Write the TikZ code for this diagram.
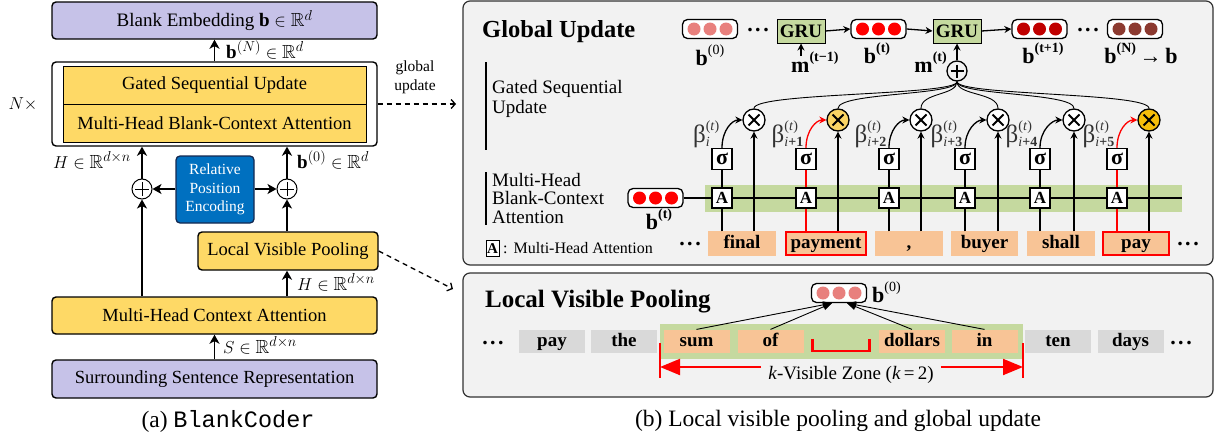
\documentclass[tikz,border=0pt]{standalone}
\usepackage{fontspec}
\setmainfont{Liberation Serif}
\setmonofont{Liberation Mono}
\usepackage{amssymb}
\usetikzlibrary{arrows.meta,calc}
\definecolor{lav}{RGB}{198,194,232}
\definecolor{yel}{RGB}{254,217,102}
\definecolor{rpeblue}{RGB}{0,112,192}
\definecolor{navy}{RGB}{20,40,80}
\definecolor{panelbg}{RGB}{242,242,242}
\definecolor{panelbd}{RGB}{50,50,50}
\definecolor{gband}{RGB}{197,217,159}
\definecolor{peach}{RGB}{248,196,150}
\definecolor{tgray}{RGB}{217,217,217}
\definecolor{pinkc}{RGB}{232,128,125}
\definecolor{redc}{RGB}{255,0,0}
\definecolor{dredc}{RGB}{192,0,0}
\definecolor{brownc}{RGB}{140,58,48}
\definecolor{gyel}{RGB}{250,212,100}
\definecolor{gorange}{RGB}{246,190,10}
\definecolor{grugreen}{RGB}{197,217,159}
\newcommand\fs[1]{\fontsize{#1}{#1}\selectfont}
\newcommand\bsup[2]{#1\raisebox{0.5em}{\fs{14}#2}}
\newcommand\pill[3]{%
  \node[pillbox] (#1) at (#2) {};
  \foreach \dx in {-16,0,16}{\fill[#3] ($(#1.center)+(\dx,0)$) circle[radius=6.5pt];}%
}
\begin{document}
\begin{tikzpicture}[x=1pt,y=-1pt,
  lbox/.style={draw, line width=1.4pt, rounded corners=4pt, inner sep=0pt, font=\fs{18.5}},
  ibox/.style={draw, line width=0.8pt, fill=yel, inner sep=0pt, font=\fs{18.5}, minimum width=303pt, minimum height=38pt},
  arr/.style={line width=1.8pt, -{Stealth[length=9pt,width=10pt,inset=2.5pt]}},
  darr/.style={line width=1.3pt, dash pattern=on 5pt off 4pt, -{Straight Barb[length=4pt,width=9pt]}},
  lab/.style={font=\fs{19}, inner sep=0pt},
  panel/.style={draw=panelbd, fill=panelbg, line width=1.2pt, rounded corners=7pt, inner sep=0pt},
  pillbox/.style={draw, line width=1.3pt, fill=white, rounded corners=5pt, minimum width=55pt, minimum height=19pt, inner sep=0pt},
  tok/.style={inner sep=0pt, minimum height=23pt, text height=12.5pt, text depth=3.5pt, font=\fs{19}\bfseries, line width=1.2pt},
  abox/.style={draw, fill=white, line width=1.1pt, minimum width=20pt, minimum height=20pt, inner sep=0pt, font=\fs{17}\bfseries},
  sbox/.style={draw, fill=white, line width=1.1pt, minimum width=20pt, minimum height=21pt, inner sep=0pt, font=\fs{22}\bfseries},
  gate/.style={circle, draw, line width=1.3pt, minimum size=22pt, inner sep=0pt},
  gru/.style={draw, fill=grugreen, line width=1pt, minimum width=48pt, minimum height=24pt, inner sep=0pt, font=\fs{19}\bfseries},
  vline/.style={line width=1.3pt},
  tip/.style={-{Stealth[length=7pt,width=7pt]}},
  bl/.style={inner sep=0pt, font=\fs{22}\bfseries},
  dots/.style={inner sep=0pt, font=\fs{22}\bfseries},
]
\useasboundingbox (0,0) rectangle (1216,439);

% ---------------- left panel ----------------
\node[lbox, fill=lav, minimum width=325pt, minimum height=37pt] (be) at (214.5,20.5) {\fs{19}Blank Embedding $\mathbf{b}\in\mathbb{R}^d$};
\node[lbox, fill=white, minimum width=325pt, minimum height=84pt] (nx) at (214.5,104) {};
\node[ibox] (gsu) at (214.5,85) {Gated Sequential Update};
\node[ibox] (mhb) at (214.5,123) {Multi-Head Blank-Context Attention};
\node[lab] (nlab) at (23,104) {$N\times$};
\draw[arr] (nx.north) -- (be.south);
\node[lab, anchor=base west] (lbN) at (226,58) {$\mathbf{b}^{(N)}\in\mathbb{R}^d$};
\node[font=\fontsize{15.5}{19}\selectfont, align=center, inner sep=0pt] (glab) at (415,77) {global\\update};
\coordinate (gend) at (456,104);
\draw[darr] (nx.east) -- (gend);

\node[circle, draw, line width=1pt, minimum size=20pt, inner sep=0pt] (p1) at (142,189) {};
\draw[line width=0.9pt] ($(p1.center)+(-7,0)$) -- ($(p1.center)+(7,0)$) ($(p1.center)+(0,-7)$) -- ($(p1.center)+(0,7)$);
\node[circle, draw, line width=1pt, minimum size=20pt, inner sep=0pt] (p2) at (287,189) {};
\draw[line width=0.9pt] ($(p2.center)+(-7,0)$) -- ($(p2.center)+(7,0)$) ($(p2.center)+(0,-7)$) -- ($(p2.center)+(0,7)$);

\node[fill=rpeblue, draw=navy, line width=1.3pt, rounded corners=4pt, minimum width=78pt, minimum height=67pt, inner sep=0pt, text=white, align=center, font=\fontsize{15.5}{18.5}\selectfont] (rpe) at (215,189.5) {Relative\\Position\\Encoding};
\draw[arr] (rpe.west |- p1.east) -- (p1.east);
\draw[arr] (rpe.east |- p2.west) -- (p2.west);

\node[lbox, fill=yel, minimum width=180pt, minimum height=38pt] (lvp) at (288,251) {Local Visible Pooling};
\node[lbox, fill=yel, minimum width=325pt, minimum height=37pt] (mhca) at (214.5,315.5) {Multi-Head Context Attention};
\node[lbox, fill=lav, minimum width=325pt, minimum height=38pt] (ssr) at (214.5,379) {Surrounding Sentence Representation};

\draw[arr] (ssr.north) -- (mhca.south);
\draw[arr] (p2.south |- mhca.north) -- (p2.south |- lvp.south);
\draw[arr] (p2.south |- lvp.north) -- (p2.south);
\draw[arr] (p2.north) -- (p2.north |- nx.south);
\draw[arr] (p1.south |- mhca.north) -- (p1.south);
\draw[arr] (p1.north) -- (p1.north |- nx.south);

\node[lab, anchor=base east] (lH1) at (131,168) {$H\in\mathbb{R}^{d\times n}$};
\node[lab, anchor=base west] (lb0) at (297,168) {$\mathbf{b}^{(0)}\in\mathbb{R}^d$};
\node[lab, anchor=base west] (lH2) at (297,290) {$H\in\mathbb{R}^{d\times n}$};
\node[lab, anchor=base west] (lS) at (223,353) {$S\in\mathbb{R}^{d\times n}$};

\coordinate (lend) at (453,289);
\draw[darr] (lvp.east) -- (lend);

\node[inner sep=0pt, font=\fs{23.5}, anchor=base] (capa) at (228,427) {(a) \texttt{BlankCoder}};
\node[inner sep=0pt, font=\fs{23.5}, anchor=base] (capb) at (838,426) {(b) Local visible pooling and global update};

% ---------------- global update panel ----------------
\node[panel, minimum width=750pt, minimum height=264pt] (gpan) at (838,133) {};
\node[anchor=base west, inner sep=0pt, font=\fs{24.5}\bfseries] (gtitle) at (482,37) {Global Update};
\draw[line width=1.6pt] (486,62) -- (486,150);
\draw[line width=1.6pt] (486,172) -- (486,225);
\node[anchor=north west, inner sep=0pt, align=left, font=\fontsize{19}{20}\selectfont] (gsutxt) at (492,80) {Gated Sequential\\Update};
\node[anchor=north west, inner sep=0pt, align=left, font=\fontsize{19}{18.5}\selectfont] (mhtxt) at (492,173) {Multi-Head\\Blank-Context\\Attention};
\node[draw, fill=white, line width=0.9pt, minimum width=13pt, minimum height=16pt, inner sep=0pt, font=\fs{15}\bfseries] (legA) at (492.5,248.5) {A};
\node[anchor=base west, inner sep=0pt, font=\fs{16}] (legT) at (503,253) {:\hspace{6pt}Multi-Head Attention};

\pill{pb0}{710,29}{pinkc}
\node[bl, anchor=base] (lb0t) at (710,65) {\bsup{b}{\mdseries(0)}};
\node[dots] (d1) at (758,30) {.\hspace{2.5pt}.\hspace{2.5pt}.};
\node[gru] (gru1) at (801,31) {GRU};
\coordinate (m1top) at (801,56);
\draw[vline, tip] (m1top) -- (gru1.south);
\node[bl, anchor=base west] (lm1) at (791,72) {\bsup{m}{(t−1)}};
\pill{pbt}{878.5,29}{redc}
\draw[vline, tip] (gru1.east) -- (pbt.west);
\node[bl, anchor=base] (lbt) at (877,63) {\bsup{b}{(t)}};
\node[gru] (gru2) at (957,31) {GRU};
\draw[vline, tip] (pbt.east) -- (gru2.west);
\pill{pbt1}{1039.5,29}{dredc}
\draw[vline, tip] (gru2.east) -- (pbt1.west);
\node[bl, anchor=base] (lbt1) at (1043,63) {\bsup{b}{(t+1)}};
\node[dots] (d2) at (1088,30) {.\hspace{2.5pt}.\hspace{2.5pt}.};
\pill{pbN}{1135,29}{brownc}
\node[bl, anchor=base] (lbN2) at (1141,63) {\bsup{b}{(N)}\,→\,b};
\node[gate, minimum size=20pt] (pm) at (957,71) {};
\draw[line width=2pt] ($(pm.center)+(-6.5,0)$) -- ($(pm.center)+(6.5,0)$) ($(pm.center)+(0,-6.5)$) -- ($(pm.center)+(0,6.5)$);
\draw[vline, tip] (pm.north) -- (gru2.south);
\node[bl, anchor=base east] (lmt) at (947,72) {\bsup{m}{(t)}};

\node[fill=gband, minimum width=477pt, minimum height=27pt, inner sep=0pt] (band) at (943.5,198.5) {};
\pill{pbt2}{655.5,198}{redc}
\node[bl, anchor=base] (lbt2) at (659,229) {\bsup{b}{(t)}};
\node[dots] (d3) at (690,244) {.\hspace{2.5pt}.\hspace{2.5pt}.};
\node[dots] (d4) at (1188,244) {.\hspace{2.5pt}.\hspace{2.5pt}.};

\foreach \q/\xa/\xm/\tc/\tw/\word/\col/\mf/\tbd/\sub in {
  1/722/754/742/66/final/black/white/peach/{\textit{i}},
  2/806/838/826/80/payment/redc/gyel/redc/{\textit{i}\textbf{+1}},
  3/889/921/909/66/{,}/black/white/peach/{\textit{i}\textbf{+2}},
  4/965/998/984.5/66/buyer/black/white/peach/{\textit{i}\textbf{+3}},
  5/1040/1074/1061/66/shall/black/white/peach/{\textit{i}\textbf{+4}},
  6/1117/1149/1136/66/pay/redc/gorange/redc/{\textit{i}\textbf{+5}}}
{
  \node[tok, fill=peach, draw=\tbd, minimum width=\tw] (T\q) at (\tc,243.5) {\word};
  \node[abox] (A\q) at (\xa,198) {A};
  \node[sbox] (S\q) at (\xa,159) {σ};
  \node[gate, fill=\mf] (M\q) at (\xm,120) {};
  \draw[line width=2pt] ($(M\q.center)+(-5.5,-5.5)$) -- ($(M\q.center)+(5.5,5.5)$) ($(M\q.center)+(-5.5,5.5)$) -- ($(M\q.center)+(5.5,-5.5)$);
  \draw[vline, draw=\col] (A\q.south |- T\q.north) -- (A\q.south);
  \draw[vline, draw=\col] (A\q.north) -- (S\q.south);
  \draw[vline, draw=\col, tip] (S\q.north) .. controls +(0,-18) and +(-10,0) .. (M\q.west);
  \draw[vline, tip] (M\q.south |- T\q.north) -- (M\q.south);
  \draw[line width=0.9pt] (pm.south) .. controls +(0,14) and +(0,-16) .. (M\q.north);
  \node[anchor=base east, inner sep=0pt, text=black!80, font=\fs{25}] (B\q) at (\xa-2,142) {β$^{\mbox{\fs{14}(\textit{t})}}_{\mbox{\fs{14}\sub}}$};
}
\draw[vline] (pbt2.east) -- (A1.west);
\foreach \q in {1,...,5}{\pgfmathtruncatemacro\qn{\q+1}\draw[vline] (A\q.east) -- (A\qn.west);}
\draw[vline] (A6.east) -- (A6.east -| band.east);

% ---------------- local visible pooling panel ----------------
\node[panel, minimum width=750pt, minimum height=124pt] (lpan) at (838,335) {};
\node[anchor=base west, inner sep=0pt, font=\fs{25}\bfseries] (ltitle) at (485,307) {Local Visible Pooling};
\node[fill=gband, minimum width=363pt, minimum height=35pt, inner sep=0pt] (band2) at (841.5,341.5) {};
\foreach \nm/\cx/\cl/\w in {pay/552/tgray/pay, the/624/tgray/the, sum/696.5/peach/sum, of/770.5/peach/of, dol/912/peach/dollars, in/984.5/peach/in, ten/1058/tgray/ten, days/1130.5/tgray/days}
  \node[tok, fill=\cl, minimum width=66pt] (L\nm) at (\cx,341.5) {\w};
\node[dots] (d5) at (493,343) {.\hspace{2.5pt}.\hspace{2.5pt}.};
\node[dots] (d6) at (1181,343) {.\hspace{2.5pt}.\hspace{2.5pt}.};
\node[minimum width=57pt, minimum height=12pt, inner sep=0pt] (blank) at (841,345) {};
\draw[redc, line width=2.5pt] (blank.north west) -- (blank.south west) -- (blank.south east) -- (blank.north east);
\pill{pb0b}{839,293}{pinkc}
\node[bl, anchor=base west] (lb0b) at (872,302) {\bsup{b}{\mdseries(0)}};
\draw[line width=0.9pt, -{Triangle[length=9pt,width=7pt]}] (Lsum.north) -- ($(pb0b.south)+(-7,0)$);
\draw[line width=0.9pt, -{Triangle[length=9pt,width=7pt]}] (Lof.north) -- ($(pb0b.south)+(-7,0)$);
\draw[line width=0.9pt, -{Triangle[length=9pt,width=7pt]}] (Ldol.north) -- ($(pb0b.south)+(8,0)$);
\draw[line width=0.9pt, -{Triangle[length=9pt,width=7pt]}] (Lin.north) -- ($(pb0b.south)+(8,0)$);
\node[inner xsep=7pt, inner ysep=0pt, font=\fs{19}, anchor=base] (kz) at (851,379) {\textit{k}-Visible Zone (\textit{k}\,=\,2)};
\coordinate (tkL) at (660,367);
\coordinate (tkR) at (1023,367);
\draw[redc, line width=2pt] ($(tkL)+(0,-24)$) -- ($(tkL)+(0,11)$);
\draw[redc, line width=2pt] ($(tkR)+(0,-24)$) -- ($(tkR)+(0,11)$);
\draw[redc, line width=2pt, -{Triangle[length=20pt,width=16pt]}] (kz.west |- tkL) -- (tkL);
\draw[redc, line width=2pt, -{Triangle[length=20pt,width=16pt]}] (kz.east |- tkR) -- (tkR);
\end{tikzpicture}
\end{document}
